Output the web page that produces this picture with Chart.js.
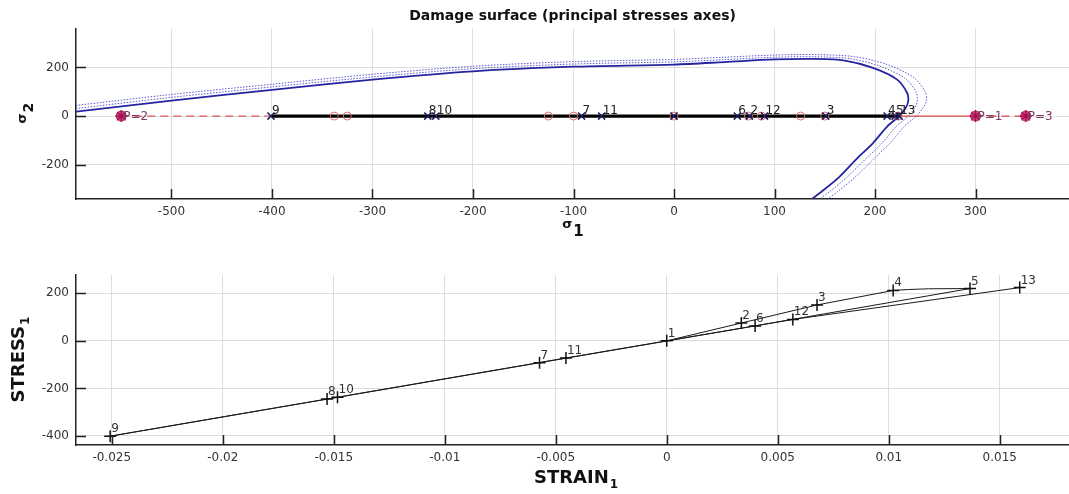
<!DOCTYPE html>
<html>
<head>
<meta charset="utf-8">
<title>Damage surface</title>
<script src="https://cdn.jsdelivr.net/npm/chart.js@4.4.1/dist/chart.umd.min.js"></script>
<style>
  html, body { margin: 0; padding: 0; background: #fff; }
  canvas { display: block; }
</style>
</head>
<body>
<canvas id="surface-chart" width="1069" height="240"></canvas>
<canvas id="curve-chart" width="1069" height="254"></canvas>
<script>
// ============================================================
// LOAD HISTORY — numbered states 1..13
// ============================================================
const pointIds = ['1', '2', '3', '4', '5', '6', '7', '8', '9', '10', '11', '12', '13'];
const strain   = [0, 0.00336, 0.00677, 0.0102, 0.01366, 0.00398, -0.00573, -0.0153, -0.02507, -0.01483, -0.00454, 0.00568, 0.0159];
const stress   = [0, 75, 151, 212, 220, 63, -92, -245, -401, -237, -72, 90, 224];

// strain/stress path in load order (with the bend between 4 and 5)
const pathStrain = [0, 0.00336, 0.00677, 0.0102, 0.0109, 0.0118, 0.01366, 0.00398, -0.00573, -0.0153, -0.02507, -0.01483, -0.00454, 0.00568, 0.0159];
const pathStress = [0, 75, 151, 212, 216, 219, 220, 63, -92, -245, -401, -237, -72, 90, 224];

// ============================================================
// DAMAGE SURFACE (sigma1, sigma2) — current + two earlier states
// ============================================================
const surfS1 = [-595, -500, -400, -300, -200, -100, 0, 50, 100, 140, 170, 198, 222, 232, 233, 230, 224, 212, 198, 181, 164, 147, 137];
const surfS2 = [18, 64, 108, 150, 184, 203, 212, 222, 233, 235, 228, 198, 150, 95, 60, 30, 0, -43, -111, -179, -252, -310, -341];
const surfAS1 = [-595, -500, -400, -300, -200, -100, 0, 50, 100, 140, 175, 205, 230, 241, 242, 239, 233, 221, 207, 190, 172, 155, 145];
const surfAS2 = [31, 77, 120, 161, 195, 214, 223, 232, 242, 244, 236, 205, 155, 98, 60, 30, 0, -43, -111, -179, -252, -310, -341];
const surfBS1 = [-595, -500, -400, -300, -200, -100, 0, 50, 100, 140, 180, 212, 238, 250, 251, 247, 241, 229, 215, 198, 180, 163, 153];
const surfBS2 = [44, 89, 131, 172, 205, 224, 233, 242, 251, 253, 244, 212, 160, 100, 60, 30, 0, -43, -111, -179, -252, -310, -341];

// points on the sigma1 axis
const trialS1  = [-338, -325, -125, -100, 0, 74, 87, 126, 150, 223];
const probeS1  = [-550, 300, 350];
const probeTags = ['P=2', 'P=1', 'P=3'];
const loadSeg  = [-400, 225];
const leftSeg  = [-550, -400];
const rightSeg = [225, 300];
const farSeg   = [300, 350];

// axis ticks
const topTicksX = [-500, -400, -300, -200, -100, 0, 100, 200, 300];
const topTicksY = [-200, 0, 200];
const botTicksX = [-0.025, -0.02, -0.015, -0.01, -0.005, 0, 0.005, 0.01, 0.015];
const botTicksY = [-400, -200, 0, 200];

// ============================================================
// HELPERS / PLUGINS
// ============================================================
const FONT = '"DejaVu Sans", sans-serif';
Chart.defaults.font.family = FONT;
Chart.defaults.color = '#333';

const pts = (xs, ys) => xs.map((x, i) => ({ x, y: ys[i] }));
const onAxis = xs => xs.map(x => ({ x, y: 0 }));
const fixedTicks = arr => scale => { scale.ticks = arr.map(v => ({ value: v })); };

// tick marks pointing into the plot
const innerTicks = {
  id: 'innerTicks',
  afterDraw(chart) {
    const { ctx, chartArea: a, scales } = chart;
    ctx.save();
    ctx.strokeStyle = '#222';
    ctx.lineWidth = 1.5;
    ctx.beginPath();
    scales.x.ticks.forEach(t => {
      const px = Math.round(scales.x.getPixelForValue(t.value)) + 0.5;
      ctx.moveTo(px, a.bottom); ctx.lineTo(px, a.bottom - 10);
    });
    scales.y.ticks.forEach(t => {
      const py = Math.round(scales.y.getPixelForValue(t.value)) + 0.5;
      ctx.moveTo(a.left, py); ctx.lineTo(a.left + 10, py);
    });
    ctx.stroke();
    ctx.restore();
  }
};

// number tags next to points
const pointTags = {
  id: 'pointTags',
  afterDatasetsDraw(chart) {
    const ctx = chart.ctx;
    chart.data.datasets.forEach((ds, i) => {
      if (!ds.tags) return;
      const meta = chart.getDatasetMeta(i);
      ctx.save();
      ctx.font = ds.tagFont || ('12px ' + FONT);
      ctx.fillStyle = ds.tagColor || '#222';
      ctx.textBaseline = ds.tagBaseline || 'alphabetic';
      meta.data.forEach((pt, j) => {
        const t = ds.tags[j];
        if (t) ctx.fillText(t, pt.x + (ds.tagDx || 0), pt.y + (ds.tagDy || 0));
      });
      ctx.restore();
    });
  }
};

// axis names with a subscript
function drawName(ctx, n, cx, cy, rot) {
  ctx.save();
  ctx.translate(cx, cy);
  ctx.rotate(rot);
  ctx.font = n.font;
  const w1 = ctx.measureText(n.text).width;
  ctx.font = n.subFont;
  const w2 = ctx.measureText(n.sub).width;
  const x0 = -(w1 + w2) / 2;
  ctx.textBaseline = 'middle';
  ctx.fillStyle = '#111';
  ctx.font = n.font;
  ctx.fillText(n.text, x0, n.mainDy || 0);
  ctx.font = n.subFont;
  ctx.fillText(n.sub, x0 + w1 + 1, n.subDy);
  ctx.restore();
}
const axisNames = {
  id: 'axisNames',
  afterDraw(chart, args, opts) {
    const { ctx, chartArea: a } = chart;
    if (opts.x) drawName(ctx, opts.x, (a.left + a.right) / 2 + (opts.x.dx || 0), a.bottom + opts.x.offset, 0);
    if (opts.y) drawName(ctx, opts.y, opts.y.offset, (a.top + a.bottom) / 2, -Math.PI / 2);
  }
};

function axis(min, max, ticks, size, isX, fmt) {
  return {
    type: 'linear',
    min, max,
    afterBuildTicks: fixedTicks(ticks),
    afterFit: s => {
      if (isX) { s.height = size; s.paddingLeft = 0; s.paddingRight = 0; }
      else { s.width = size; s.paddingTop = 0; s.paddingBottom = 0; }
    },
    grid: { color: '#dedede', lineWidth: 1, drawTicks: false },
    border: { display: true, color: '#222', width: 1.5 },
    ticks: {
      autoSkip: false, maxRotation: 0,
      padding: isX ? 6 : 7,
      color: '#333',
      font: { size: 12 },
      callback: fmt || (v => String(v))
    }
  };
}

// ============================================================
// TOP — damage surface in principal stress axes
// ============================================================
new Chart(document.getElementById('surface-chart'), {
  type: 'scatter',
  data: {
    datasets: [
      { data: pts(surfBS1, surfBS2), showLine: true, pointRadius: 0, borderColor: '#5a5ad2', borderWidth: 1, borderDash: [1.5, 1.5], tension: 0.3, order: 9 },
      { data: pts(surfAS1, surfAS2), showLine: true, pointRadius: 0, borderColor: '#5a5ad2', borderWidth: 1, borderDash: [1.5, 1.5], tension: 0.3, order: 8 },
      { data: pts(surfS1, surfS2), showLine: true, pointRadius: 0, borderColor: '#2424a0', borderWidth: 1.8, tension: 0.3, order: 7 },
      { data: onAxis(leftSeg), showLine: true, pointRadius: 0, borderColor: '#d65a5a', borderWidth: 1.2, borderDash: [8, 5], order: 6 },
      { data: onAxis(rightSeg), showLine: true, pointRadius: 0, borderColor: '#d04848', borderWidth: 1.2, order: 6 },
      { data: onAxis(farSeg), showLine: true, pointRadius: 0, borderColor: '#d04848', borderWidth: 1.2, borderDash: [8, 5], order: 6 },
      { data: onAxis(loadSeg), showLine: true, pointRadius: 0, borderColor: '#000', borderWidth: 3.2, order: 5 },
      { data: onAxis(trialS1), pointStyle: 'circle', pointRadius: 4, borderColor: '#e06a6a', backgroundColor: 'rgba(0,0,0,0)', borderWidth: 1, order: 3 },
      {
        // origin state sits under a red circle and carries no tag
        data: onAxis(stress), pointStyle: 'crossRot', pointRadius: 5, borderColor: '#1c1c5c', borderWidth: 1.5, order: 2,
        tags: pointIds.map((t, i) => (i === 0 ? '' : t)), tagDx: 1, tagDy: -2
      },
      { data: onAxis(probeS1), pointStyle: 'circle', pointRadius: 5, backgroundColor: '#d8407e', borderColor: '#b81858', borderWidth: 1, order: 1,
        tags: probeTags, tagDx: 2, tagDy: 1, tagBaseline: 'middle', tagColor: '#7a3a62' },
      { data: onAxis(probeS1), pointStyle: 'star', pointRadius: 6, borderColor: '#a0104a', borderWidth: 1.2, order: 0 }
    ]
  },
  options: {
    responsive: false,
    animation: false,
    layout: { autoPadding: false, padding: { left: 0, right: 0, top: 0, bottom: 0 } },
    plugins: {
      legend: { display: false },
      tooltip: { enabled: false },
      title: {
        display: true, fullSize: false,
        text: 'Damage surface (principal stresses axes)',
        color: '#111',
        font: { size: 14, weight: 'bold' },
        padding: { top: 8, bottom: 3.5 }
      },
      axisNames: {
        x: { text: 'σ', sub: '1', font: 'bold 13px ' + FONT, subFont: 'bold 15px ' + FONT, subDy: 5, mainDy: -2, offset: 28 },
        y: { text: 'σ', sub: '2', font: 'bold 13px ' + FONT, subFont: 'bold 14px ' + FONT, subDy: 4, mainDy: -2, offset: 25 }
      }
    },
    scales: {
      x: axis(-595, 393, topTicksX, 41, true),
      y: axis(-341, 361, topTicksY, 76, false)
    }
  },
  plugins: [innerTicks, pointTags, axisNames]
});

// ============================================================
// BOTTOM — stress / strain response
// ============================================================
new Chart(document.getElementById('curve-chart'), {
  type: 'scatter',
  data: {
    datasets: [
      { data: pts(pathStrain, pathStress), showLine: true, pointRadius: 0, borderColor: '#1a1a1a', borderWidth: 1, order: 2 },
      { data: pts(strain, stress), pointStyle: 'cross', pointRadius: 6, borderColor: '#111', borderWidth: 1.5, order: 1,
        tags: pointIds, tagDx: 1, tagDy: -4, tagColor: '#333' }
    ]
  },
  options: {
    responsive: false,
    animation: false,
    layout: { autoPadding: false, padding: { left: 0, right: 0, top: 35, bottom: 0 } },
    plugins: {
      legend: { display: false },
      tooltip: { enabled: false },
      axisNames: {
        x: { text: 'STRAIN', sub: '1', font: 'bold 18px ' + FONT, subFont: 'bold 12px ' + FONT, subDy: 7, offset: 33, dx: 3 },
        y: { text: 'STRESS', sub: '1', font: 'bold 18px ' + FONT, subFont: 'bold 12px ' + FONT, subDy: 7, offset: 19 }
      }
    },
    scales: {
      x: axis(-0.02661, 0.01812, botTicksX, 49, true),
      y: axis(-438, 277, botTicksY, 76, false)
    }
  },
  plugins: [innerTicks, pointTags, axisNames]
});
</script>
</body>
</html>
